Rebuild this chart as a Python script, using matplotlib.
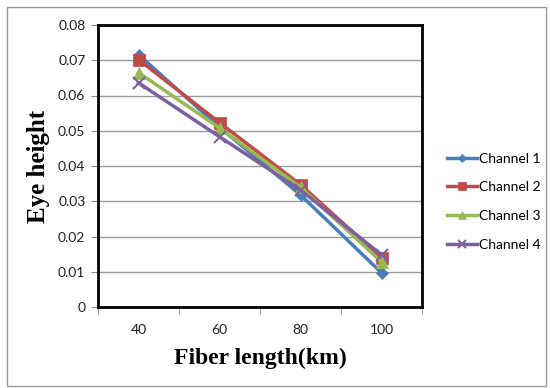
import matplotlib
matplotlib.use("Agg")
from matplotlib import pyplot as plt
from matplotlib.patches import Rectangle

fiber_lengths = ["40", "60", "80", "100"]
channel_1 = [0.0716, 0.0510, 0.0318, 0.0097]
channel_2 = [0.0702, 0.0523, 0.0347, 0.0139]
channel_3 = [0.0665, 0.0508, 0.0340, 0.0128]
channel_4 = [0.0636, 0.0483, 0.0332, 0.0148]

series = [
    ("Channel 1", channel_1, "#4A7EBB", "D", 6),
    ("Channel 2", channel_2, "#BE4B48", "s", 8),
    ("Channel 3", channel_3, "#98B954", "^", 8),
    ("Channel 4", channel_4, "#7D60A0", "x", 8),
]

fig = plt.figure(figsize=(5.5, 3.88), dpi=100)
axes = fig.add_axes([98 / 550, 1 - 307 / 388, 324 / 550, 282 / 388])

positions = range(len(fiber_lengths))
for name, values, color, marker, size in series:
    axes.plot(positions, values, color=color, marker=marker, markersize=size,
              linewidth=2.5, markeredgewidth=1.5 if marker == "x" else 0.5,
              markeredgecolor=color, label=name)

axes.set_xlim(-0.5, len(fiber_lengths) - 0.5)
axes.set_ylim(0, 0.08)
axes.set_yticks([i / 100 for i in range(9)])
axes.set_yticklabels(["0"] + [f"{i / 100:.2f}" for i in range(1, 9)])
axes.set_xticks(list(positions))
axes.set_xticklabels(fiber_lengths)
axes.set_xticks([i + 0.5 for i in range(-1, len(fiber_lengths))], minor=True)
axes.tick_params(axis="x", which="major", length=0, pad=12)
axes.tick_params(axis="x", which="minor", length=5, color="#888888")
axes.tick_params(axis="y", length=5, color="#888888", pad=4)
for label in axes.get_xticklabels() + axes.get_yticklabels():
    label.set_fontfamily("Lato")
    label.set_fontsize(10)
    label.set_color("#222222")

axes.grid(axis="y", color="#9a9a9a", linewidth=1)
axes.set_axisbelow(True)
for spine in axes.spines.values():
    spine.set_linewidth(2)
    spine.set_color("black")

axes.set_xlabel("Fiber length(km)", fontfamily="Liberation Serif", fontweight="bold",
                fontsize=17, labelpad=9)
axes.set_ylabel("Eye height", fontfamily="Liberation Serif", fontweight="bold",
                fontsize=18, labelpad=6)

legend = fig.legend(loc="upper left", bbox_to_anchor=(434 / 550, 1 - 140 / 388),
                    frameon=False, prop={"family": "Lato", "size": 10},
                    handlelength=2.2, handletextpad=0.15, labelspacing=1.2,
                    markerscale=0.75)

fig.patches.append(Rectangle((7 / 550, 2 / 388), 539 / 550, 379 / 388,
                             transform=fig.transFigure, fill=False,
                             edgecolor="#999999", linewidth=1))

fig.savefig("out.png", dpi=100)
